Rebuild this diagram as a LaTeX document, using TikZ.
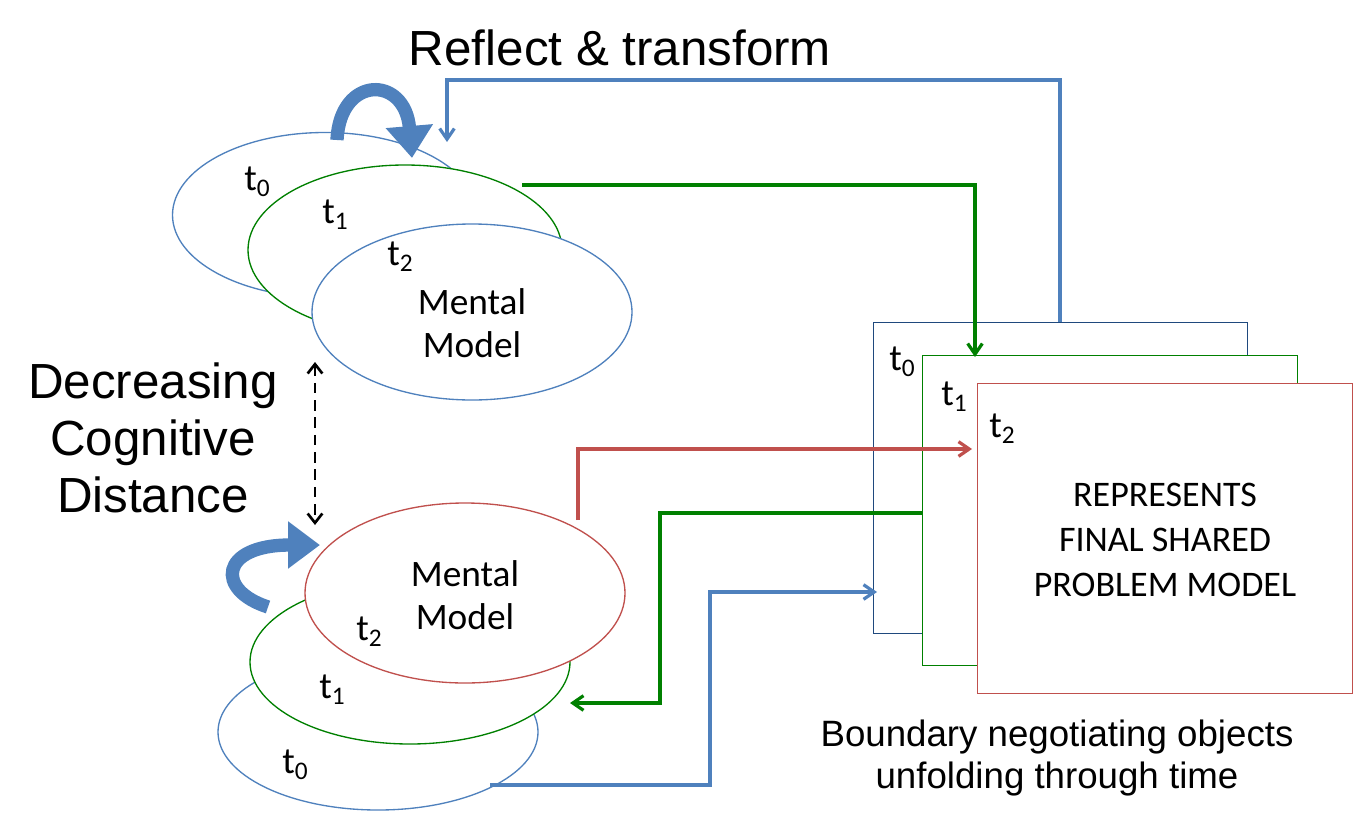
\documentclass[tikz,border=0pt]{standalone}
\usepackage{fontspec}
\setmainfont{Liberation Sans}
\newfontfamily\calfont{Carlito}
\usetikzlibrary{shapes.geometric,arrows.meta}
\definecolor{bl}{RGB}{79,129,189}
\definecolor{gr}{RGB}{0,128,0}
\definecolor{rd}{RGB}{192,80,77}
\definecolor{db}{RGB}{31,73,125}
\newcommand{\tsub}[1]{t\raisebox{-0.35ex}{\fontsize{19}{19}\selectfont #1}}
\begin{document}
\begin{tikzpicture}[x=0.75pt,y=-0.75pt,
 ell/.style={ellipse,fill=white,line width=1pt,inner sep=0pt},
 box/.style={fill=white,line width=1pt,anchor=north west,inner sep=0pt},
 lbl/.style={font=\calfont\fontsize{28}{32}\selectfont,align=center},
 big/.style={font=\fontsize{37}{43}\selectfont,align=center},
 con/.style={line width=2.4pt,-{Straight Barb[length=8pt,width=11pt]}},
 thick arrow/.style={bl,line width=10pt,-{Triangle[length=24pt,width=34pt]}}]
\useasboundingbox (0,0) rectangle (1358,824);
% top ellipses
\node[ell,draw=bl,minimum width={0.75*305pt},minimum height={0.75*165pt}] (E0) at (325,215) {};
\node[ell,draw=gr,minimum width={0.75*314pt},minimum height={0.75*170pt}] (E1) at (405,250) {};
\node[ell,draw=bl,minimum width={0.75*320pt},minimum height={0.75*176pt}] (E2) at (472,312) {};
\node[lbl] (t0a) at (257,182) {\tsub{0}};
\node[lbl] (t1a) at (335,215) {\tsub{1}};
\node[lbl] (t2a) at (400,257) {\tsub{2}};
\node[lbl] (mma) at (472,323) {Mental\\Model};
% bottom ellipses
\node[ell,draw=bl,minimum width={0.75*320pt},minimum height={0.75*156pt}] (B0) at (378,732) {};
\node[ell,draw=gr,minimum width={0.75*320pt},minimum height={0.75*164pt}] (B1) at (410,662) {};
\node[ell,draw=rd,minimum width={0.75*320pt},minimum height={0.75*180pt}] (B2) at (465,593) {};
\node[lbl] (mmb) at (465,595) {Mental\\Model};
\node[lbl] (t2b) at (369,632) {\tsub{2}};
\node[lbl] (t1b) at (332,690) {\tsub{1}};
\node[lbl] (t0b) at (295,765) {\tsub{0}};
% rectangles
\node[box,draw=db,minimum width={0.75*374pt},minimum height={0.75*311pt}] (R0) at (873,322) {};
\node[box,draw=gr,minimum width={0.75*375pt},minimum height={0.75*310pt}] (R1) at (922,355) {};
\node[box,draw=rd,minimum width={0.75*375pt},minimum height={0.75*310pt}] (R2) at (977,383) {};
\node[lbl] (rt0) at (902,362) {\tsub{0}};
\node[lbl] (rt1) at (954,397) {\tsub{1}};
\node[lbl] (rt2) at (1002,429) {\tsub{2}};
\node[lbl,font=\calfont\fontsize{27}{34}\selectfont] (rep) at (1165,540) {REPRESENTS\\FINAL SHARED\\PROBLEM MODEL};
% texts
\node[big] (rt) at (620,48) {Reflect \& transform};
\node[big,font=\fontsize{37}{43}\selectfont] (dcd) at (153,438) {Decreasing\\Cognitive\\Distance};
\node[lbl,font=\fontsize{27.5}{31}\selectfont] (cap) at (1057,758) {Boundary negotiating objects\\unfolding through time};
% connectors
\coordinate (a1) at (1060,322); \coordinate (a2) at (447,142);
\draw[con,bl] (a1) -- (1060,80) -- (447,80) -- (a2);
\coordinate (b1) at (522,185); \coordinate (b2) at (975,357);
\draw[con,gr] (b1) -- (975,185) -- (b2);
\coordinate (c1) at (578,520); \coordinate (c2) at (972,449);
\draw[con,rd] (c1) -- (578,449) -- (c2);
\coordinate (d1) at (922,513); \coordinate (d2) at (570,703);
\draw[con,gr] (d1) -- (660,513) -- (660,703) -- (d2);
\coordinate (e1) at (490,785); \coordinate (e2) at (877,592);
\draw[con,bl] (e1) -- (710,785) -- (710,592) -- (e2);
\coordinate (f1) at (315,362); \coordinate (f2) at (315,525);
\draw[line width=2pt,dash pattern=on 8pt off 5pt,{Straight Barb[length=7pt,width=11pt]}-{Straight Barb[length=7pt,width=11pt]}] (f1) -- (f2);
% thick curved arrows
\coordinate (g1) at (337,140); \coordinate (g2) at (412,158);
\draw[thick arrow] (g1) .. controls (340,75) and (405,75) .. (g2);
\coordinate (h1) at (268,607); \coordinate (h2) at (320,545);
\draw[thick arrow] (h1) .. controls (215,590) and (220,545) .. (h2);
\end{tikzpicture}
\end{document}
